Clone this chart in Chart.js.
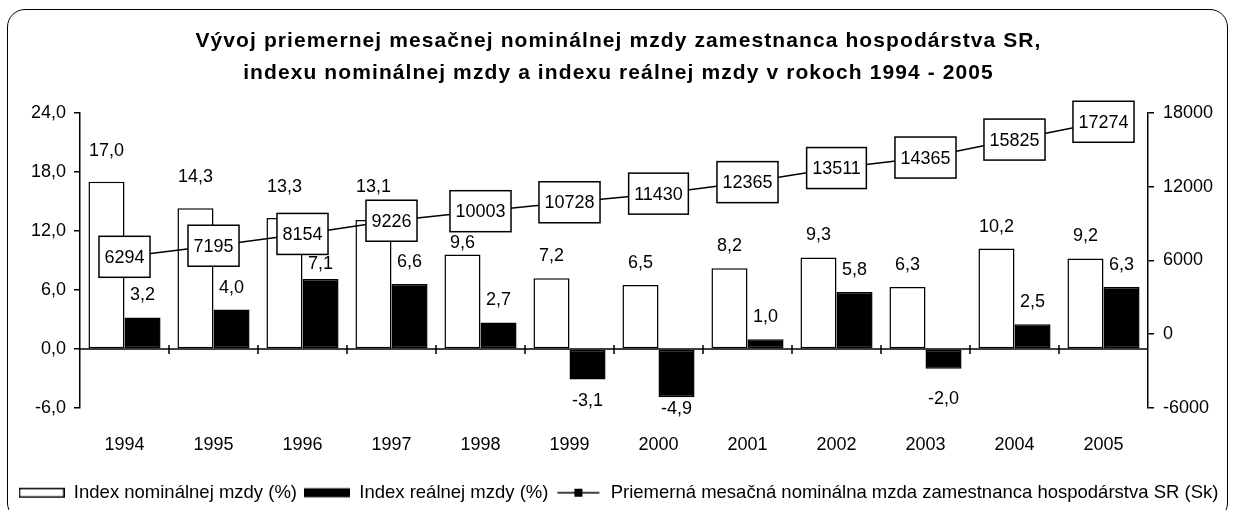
<!DOCTYPE html>
<html lang="sk">
<head>
<meta charset="utf-8">
<title>Vývoj priemernej mesačnej nominálnej mzdy</title>
<script src="https://cdn.jsdelivr.net/npm/chart.js@4.4.1/dist/chart.umd.min.js"></script>
<style>
  html, body { margin: 0; padding: 0; background: #fff; overflow: hidden; }
  #wrap { position: relative; width: 1233px; height: 510px; }
  #frame {
    position: absolute; left: 7px; top: 9px; width: 1219px; height: 510px;
    border: 1.5px solid #000; border-radius: 18px; pointer-events: none;
  }
  canvas { position: absolute; left: 0; top: 0; }
</style>
</head>
<body>
<div id="wrap">
  <canvas id="wageChart" width="1233" height="512"></canvas>
  <div id="frame"></div>
</div>
<script>
// data
const years = ["1994", "1995", "1996", "1997", "1998", "1999", "2000", "2001", "2002", "2003", "2004", "2005"];
const nominalIndex = [17.0, 14.3, 13.3, 13.1, 9.6, 7.2, 6.5, 8.2, 9.3, 6.3, 10.2, 9.2];
const realIndex = [3.2, 4.0, 7.1, 6.6, 2.7, -3.1, -4.9, 1.0, 5.8, -2.0, 2.5, 6.3];
const averageWage = [6294, 7195, 8154, 9226, 10003, 10728, 11430, 12365, 13511, 14365, 15825, 17274];

const titleLines = [
  "Vývoj priemernej mesačnej nominálnej mzdy zamestnanca hospodárstva SR,",
  "indexu nominálnej mzdy a indexu reálnej mzdy v rokoch 1994 - 2005",
];
const seriesNames = [
  "Index nominálnej mzdy (%)",
  "Index reálnej mzdy (%)",
  "Priemerná mesačná nominálna mzda zamestnanca hospodárstva SR (Sk)",
];

const FONT = '"Liberation Sans", Arial, sans-serif';
Chart.defaults.font.family = FONT;
Chart.defaults.color = "#000";

const fmt = (v) => v.toFixed(1).replace(".", ",");

// small legend icons (Excel style)
function makeIcon(kind) {
  const c = document.createElement("canvas");
  c.width = 46;
  c.height = 12;
  const g = c.getContext("2d");
  g.lineWidth = 1.5;
  g.strokeStyle = "#000";
  g.fillStyle = "#000";
  if (kind === "open") {
    g.fillStyle = "#fff";
    g.fillRect(1, 2, 44, 8);
    g.strokeRect(0.75, 1.75, 44.5, 8.5);
  } else if (kind === "solid") {
    g.fillRect(0, 1.5, 46, 9);
  } else {
    g.beginPath();
    g.moveTo(2, 6);
    g.lineTo(44, 6);
    g.stroke();
    g.fillRect(19, 2, 8, 8);
  }
  return c;
}
const legendIcons = [makeIcon("open"), makeIcon("solid"), makeIcon("line")];

// Excel draws the title a bit spaced out
const titleSpacing = {
  id: "titleSpacing",
  afterInit(chart) {
    const block = chart.titleBlock;
    if (!block) return;
    const draw = block.draw.bind(block);
    block.draw = function () {
      chart.ctx.letterSpacing = "1.1px";
      draw();
      chart.ctx.letterSpacing = "0px";
    };
  },
};

// zero line with small category ticks, boxed wage labels, bar value labels
const chartExtras = {
  id: "chartExtras",
  afterDatasetsDraw(chart, args, opts) {
    const ctx = chart.ctx;
    const x = chart.scales.x;
    const y0 = chart.scales.y.getPixelForValue(0);
    const area = chart.chartArea;

    ctx.save();
    ctx.strokeStyle = "#000";
    ctx.lineWidth = 1.5;
    ctx.beginPath();
    ctx.moveTo(area.left, y0);
    ctx.lineTo(area.right, y0);
    for (let i = 0; i < years.length - 1; i++) {
      const bx = (x.getPixelForValue(i) + x.getPixelForValue(i + 1)) / 2;
      ctx.moveTo(bx, y0 - 4);
      ctx.lineTo(bx, y0 + 5);
    }
    ctx.stroke();

    ctx.font = "18px " + FONT;
    ctx.textAlign = "center";
    ctx.textBaseline = "middle";

    chart.getDatasetMeta(2).data.forEach((pt, i) => {
      const text = String(averageWage[i]);
      const w = ctx.measureText(text).width + 11;
      const h = 41;
      ctx.fillStyle = "#fff";
      ctx.fillRect(pt.x - w / 2, pt.y - h / 2, w, h);
      ctx.strokeRect(pt.x - w / 2, pt.y - h / 2, w, h);
      ctx.fillStyle = "#000";
      ctx.fillText(text, pt.x, pt.y + 1);
    });

    ctx.fillStyle = "#000";
    [0, 1].forEach((di) => {
      const values = chart.data.datasets[di].data;
      const nudge = opts.nudge[di];
      chart.getDatasetMeta(di).data.forEach((bar, i) => {
        const off = 22 + nudge[i];
        const v = values[i];
        ctx.fillText(fmt(v), bar.x, v >= 0 ? bar.y - off : bar.y + off);
      });
    });
    ctx.restore();
  },
};

const ctx = document.getElementById("wageChart").getContext("2d");

new Chart(ctx, {
  data: {
    labels: years,
    datasets: [
      {
        type: "bar",
        label: seriesNames[0],
        data: nominalIndex,
        backgroundColor: "#fff",
        borderColor: "#000",
        borderWidth: 1.5,
        borderSkipped: false,
        yAxisID: "y",
        order: 1,
      },
      {
        type: "bar",
        label: seriesNames[1],
        data: realIndex,
        backgroundColor: "#000",
        borderColor: "#000",
        borderWidth: 1.5,
        borderSkipped: false,
        yAxisID: "y",
        order: 1,
      },
      {
        type: "line",
        label: seriesNames[2],
        data: averageWage,
        borderColor: "#000",
        borderWidth: 1.5,
        backgroundColor: "#000",
        pointStyle: "rect",
        pointRadius: 4,
        tension: 0,
        yAxisID: "y1",
        order: 0,
      },
    ],
  },
  options: {
    responsive: false,
    animation: false,
    events: [],
    datasets: {
      bar: { categoryPercentage: 0.81, barPercentage: 1 },
    },
    layout: { padding: { left: 4, right: 0, top: 0, bottom: 0 } },
    scales: {
      x: {
        grid: { display: false },
        border: { display: false },
        ticks: { font: { size: 18 }, padding: 18, maxRotation: 0 },
        afterFit: (scale) => { scale.height = 68.5; },
      },
      y: {
        position: "left",
        min: -6,
        max: 24,
        border: { display: true, color: "#000", width: 1.5 },
        grid: { drawOnChartArea: false, color: "#000", lineWidth: 1.5, tickLength: 6 },
        ticks: { stepSize: 6, font: { size: 18 }, padding: 8, callback: (v) => fmt(v) },
        afterFit: (scale) => { scale.width = 76; },
      },
      y1: {
        position: "right",
        min: -6000,
        max: 18000,
        border: { display: true, color: "#000", width: 1.5 },
        grid: { drawOnChartArea: false, color: "#000", lineWidth: 1.5, tickLength: 6 },
        ticks: { stepSize: 6000, font: { size: 18 }, padding: 9, callback: (v) => String(v) },
        afterFit: (scale) => { scale.width = 85; },
      },
    },
    plugins: {
      title: {
        display: true,
        text: titleLines,
        font: { size: 21, weight: "bold", lineHeight: 1.52 },
        padding: { top: 25, bottom: 24 },
      },
      legend: {
        position: "bottom",
        labels: {
          usePointStyle: true,
          pointStyleWidth: 46,
          padding: 7,
          font: { size: 18.5 },
          sort: (a, b) => a.datasetIndex - b.datasetIndex,
          generateLabels(chart) {
            const items = Chart.defaults.plugins.legend.labels.generateLabels(chart);
            items.forEach((item) => { item.pointStyle = legendIcons[item.datasetIndex]; });
            return items;
          },
        },
      },
      tooltip: { enabled: false },
      chartExtras: {
        // hand-moved labels in the original (extra px away from the bar end)
        nudge: [
          [9, 9, 9, 11, -11, 0, 0, 0, 0, 0, 0, 0],
          [0, 0, -7, 0, 0, 0, -10, 0, 0, 8, 0, 0],
        ],
      },
    },
  },
  plugins: [titleSpacing, chartExtras],
});
</script>
</body>
</html>
